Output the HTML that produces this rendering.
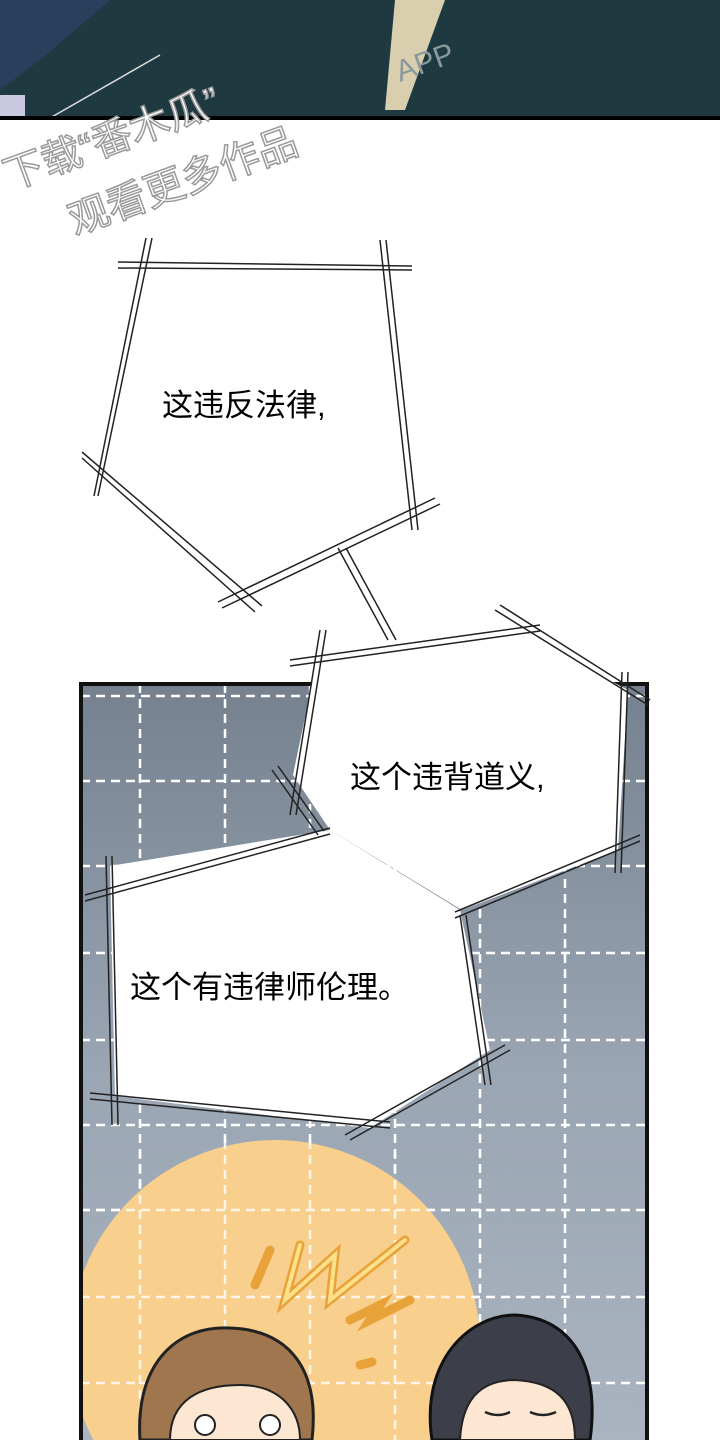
<!DOCTYPE html>
<html><head><meta charset="utf-8"><style>
html,body{margin:0;padding:0;width:720px;height:1440px;overflow:hidden;background:#fff}
svg{display:block}
text{font-family:"Liberation Sans","Noto Sans CJK SC",sans-serif}
</style></head><body>
<svg width="720" height="1440" viewBox="0 0 720 1440">
<defs>
<linearGradient id="g" x1="0" y1="0" x2="0" y2="1"><stop offset="0" stop-color="#76818f"/><stop offset="0.5" stop-color="#9aa5b3"/><stop offset="1" stop-color="#aab4c0"/></linearGradient>
<clipPath id="pc"><rect x="81" y="684" width="566" height="760"/></clipPath>
</defs>
<rect x="0" y="0" width="720" height="118" fill="#1e3a40"/>
<polygon points="0,0 110,0 40,60 0,90" fill="#2a3f5c"/>
<polygon points="395,0 445,0 405,110 385,110" fill="#d9cfae"/>
<polygon points="0,95 25,95 25,118 0,118" fill="#c8c8e0"/>
<line x1="50" y1="118" x2="160" y2="55" stroke="#ddd" stroke-width="1.5"/>
<rect x="0" y="116" width="720" height="4" fill="#000"/>
<text x="400" y="82" font-size="30" fill="#8a9a9c" transform="rotate(-20 400 82)">APP</text>
<text x="10" y="190" font-size="40" fill="#fff" stroke="#999" stroke-width="1.5" transform="rotate(-20 10 190)">下载“番木瓜”</text>
<text x="75" y="235" font-size="40" fill="#fff" stroke="#999" stroke-width="1.5" transform="rotate(-20 75 235)">观看更多作品</text>

<g clip-path="url(#pc)">
<rect x="81" y="684" width="566" height="760" fill="url(#g)"/>
<g stroke="#fff" stroke-width="2.5" stroke-dasharray="9,6" fill="none">
<line x1="81" y1="696" x2="647" y2="696"/><line x1="81" y1="781" x2="647" y2="781"/>
<line x1="81" y1="866" x2="647" y2="866"/><line x1="81" y1="953" x2="647" y2="953"/>
<line x1="81" y1="1040" x2="647" y2="1040"/><line x1="81" y1="1125" x2="647" y2="1125"/>
<line x1="81" y1="1210" x2="647" y2="1210"/><line x1="81" y1="1297" x2="647" y2="1297"/>
<line x1="81" y1="1383" x2="647" y2="1383"/>
<line x1="140" y1="684" x2="140" y2="1440"/><line x1="225" y1="684" x2="225" y2="1440"/>
<line x1="310" y1="684" x2="310" y2="1440"/><line x1="395" y1="684" x2="395" y2="1440"/>
<line x1="480" y1="684" x2="480" y2="1440"/><line x1="565" y1="684" x2="565" y2="1440"/>
</g>
<circle cx="275" cy="1345" r="205" fill="#f8cf8c"/>
<g stroke="#fff" stroke-width="2.5" stroke-dasharray="9,6" opacity="0.8">
<line x1="81" y1="1210" x2="480" y2="1210"/><line x1="81" y1="1297" x2="480" y2="1297"/><line x1="81" y1="1383" x2="480" y2="1383"/>
<line x1="140" y1="1150" x2="140" y2="1440"/><line x1="225" y1="1140" x2="225" y2="1440"/><line x1="310" y1="1140" x2="310" y2="1440"/><line x1="395" y1="1150" x2="395" y2="1440"/>
</g>
</g>
<rect x="81" y="684" width="566" height="760" fill="none" stroke="#111" stroke-width="4"/>
<g fill="none" stroke="#e9a23a" stroke-width="9" stroke-linecap="round">
<path d="M270 1250 L255 1285"/><path d="M300 1245 L285 1300 L335 1255 L330 1300 L405 1240"/>
<path d="M350 1320 L380 1305 L370 1320 L410 1300"/><path d="M360 1365 L372 1362"/>
</g>
<g fill="none" stroke="#fde08a" stroke-width="4" stroke-linecap="round">
<path d="M300 1245 L285 1300 L335 1255 L330 1300 L405 1240"/>
</g>
<path d="M140 1440 C135 1360 180 1325 230 1328 C290 1330 320 1370 312 1440 Z" fill="#a0764e" stroke="#222" stroke-width="3"/>
<path d="M170 1440 C170 1400 200 1385 240 1385 C280 1385 300 1410 300 1440 Z" fill="#fde6d2" stroke="#222" stroke-width="2"/>
<circle cx="205" cy="1425" r="10" fill="#fff" stroke="#222" stroke-width="2"/><circle cx="270" cy="1425" r="10" fill="#fff" stroke="#222" stroke-width="2"/>
<path d="M432 1440 C420 1360 470 1315 515 1315 C575 1318 600 1370 590 1440 Z" fill="#3c3f4a" stroke="#111" stroke-width="3"/>
<path d="M460 1440 C462 1400 480 1380 515 1380 C555 1382 575 1400 575 1440 Z" fill="#fde6d2" stroke="#222" stroke-width="2"/>
<path d="M485 1412 Q498 1418 510 1412 M530 1412 Q543 1418 556 1412" stroke="#222" stroke-width="2.5" fill="none"/>

<g fill="#fff">
<polygon points="148,263 385,265 412,528 340,550 245,600 100,478"/>
<polygon points="318,655 500,622 628,690 618,850 462,910 330,830 293,775"/>
<polygon points="110,866 330,830 460,910 490,1050 370,1128 115,1096"/>
</g>
<g stroke="#222" stroke-width="1.5" fill="none">
<path d="M118 262 L412 266 M118 268 L412 270"/>
<path d="M152 238 L98 496 M146 238 L94 496"/>
<path d="M380 240 L412 530 M386 240 L418 530"/>
<path d="M82 458 L255 612 M82 452 L262 606"/>
<path d="M218 602 L435 498 M222 608 L440 504"/>
<path d="M338 548 L388 640 M346 548 L396 640"/>
<path d="M290 660 L540 625 M290 666 L540 631"/>
<path d="M495 610 L648 705 M500 605 L650 700"/>
<path d="M622 672 L615 873 M628 672 L621 873"/>
<path d="M320 630 L290 815 M326 630 L296 815"/>
<path d="M272 770 L318 835 M278 766 L324 831"/>
<path d="M85 895 L330 828 M85 901 L330 834"/>
<path d="M112 856 L118 1125 M106 856 L112 1125"/>
<path d="M455 912 L640 835 M455 918 L640 841"/>
<path d="M460 915 L485 1085 M466 915 L491 1085"/>
<path d="M90 1093 L390 1122 M90 1099 L390 1128"/>
<path d="M345 1135 L505 1045 M350 1140 L510 1050"/>
</g>
<text x="162" y="416" font-size="31" fill="#000">这违反法律,</text>
<text x="350" y="788" font-size="31" fill="#000">这个违背道义,</text>
<text x="130" y="998" font-size="31" fill="#000">这个有违律师伦理。</text>
</svg>
</body></html>
